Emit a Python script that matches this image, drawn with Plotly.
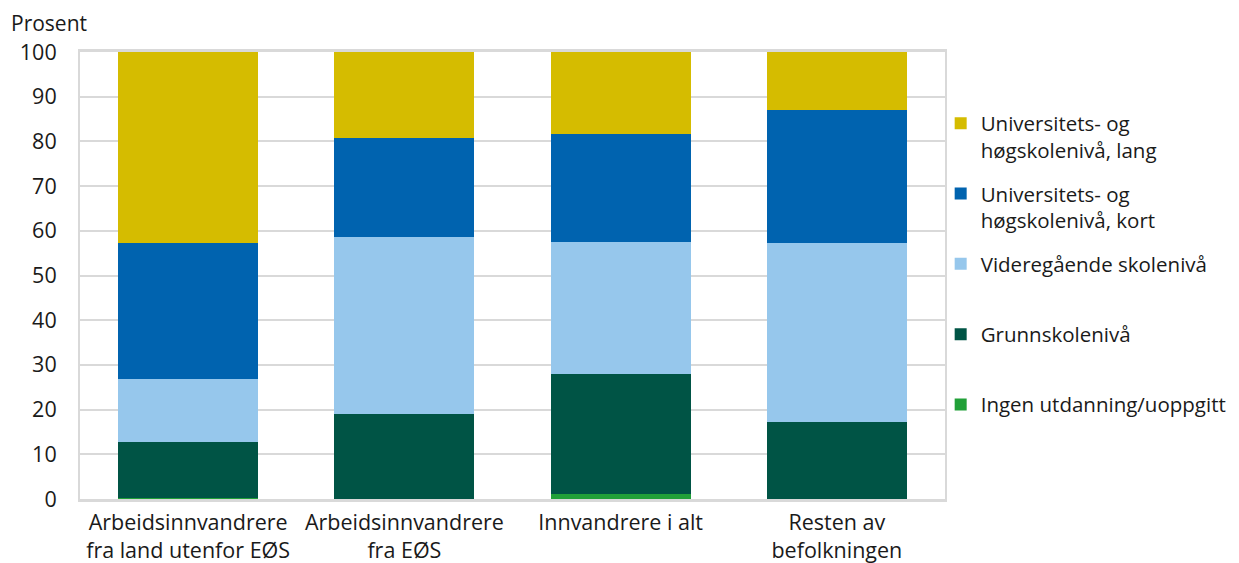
import plotly.graph_objects as go

categories = [
    "Arbeidsinnvandrere<br>fra land utenfor EØS",
    "Arbeidsinnvandrere<br>fra EØS",
    "Innvandrere i alt",
    "Resten av<br>befolkningen",
]

ingen = [0.2, 0.1, 1.2, 0.1]
grunn = [12.6, 19.0, 26.8, 17.2]
vgs = [14.1, 39.6, 29.6, 39.9]
kort = [30.3, 22.0, 24.0, 29.8]
lang = [42.8, 19.3, 18.4, 13.0]

# single-line names get an empty second line so every legend row has the same height
series = [
    ("Ingen utdanning/uoppgitt<br> ", ingen, "#21A038"),
    ("Grunnskolenivå<br> ", grunn, "#005445"),
    ("Videregående skolenivå<br> ", vgs, "#96C7EC"),
    ("Universitets- og<br>høgskolenivå, kort", kort, "#0063AF"),
    ("Universitets- og<br>høgskolenivå, lang", lang, "#D5BC00"),
]

fig = go.Figure()
for i, (name, vals, color) in enumerate(series):
    fig.add_trace(go.Bar(
        x=categories, y=vals, name=name, legendgroup=name,
        legendrank=100 - i,
        marker=dict(color=color, line=dict(width=0)),
    ))

grid = "#d9d9d9"
# the page has an 8px body margin, so the figure is a bit smaller than the window
fig.update_layout(
    barmode="stack",
    bargap=0.353,
    plot_bgcolor="white",
    paper_bgcolor="white",
    width=1231, height=555,
    margin=dict(l=72, r=294, t=44, b=64, autoexpand=False),
    font=dict(family="Open Sans, sans-serif", size=21.5, color="#1a1a1a"),
    legend=dict(
        traceorder="grouped",
        tracegroupgap=14,
        valign="top",
        bgcolor="rgba(0,0,0,0)",
        x=0.995, xanchor="left",
        y=0.885, yanchor="top",
        font=dict(size=20.5),
        itemwidth=30,
    ),
    annotations=[dict(
        text="Prosent", xref="paper", yref="paper",
        x=-0.082, y=1.03, xanchor="left", yanchor="bottom",
        showarrow=False, font=dict(size=21),
    )],
)
fig.update_yaxes(
    range=[0, 100], dtick=10, showgrid=True, gridcolor=grid, gridwidth=2,
    showline=True, linecolor=grid, linewidth=2, mirror=True,
    zeroline=False, ticks="", ticklabelstandoff=17, automargin=False,
)
fig.update_xaxes(
    showline=True, linecolor=grid, linewidth=3, mirror=True,
    ticks="", tickangle=0, ticklabelstandoff=2, automargin=False,
)

fig.write_html("out.html")
